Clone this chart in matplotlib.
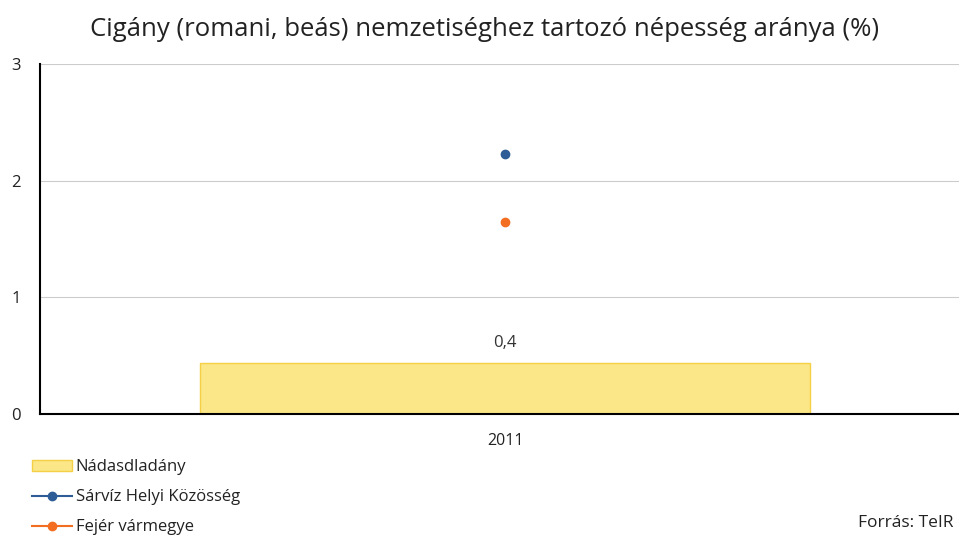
import matplotlib.pyplot as plt
from matplotlib.patches import Patch
from matplotlib.lines import Line2D

plt.rcParams['font.family'] = ['Open Sans', 'DejaVu Sans']

years = ['2011']
nadasdladany = [0.44]
sarviz = [2.23]
fejer = [1.645]

YELLOW = '#FCE788'
YELLOW_EDGE = '#F5CF45'
BLUE = '#2D5C97'
ORANGE = '#F36E21'

fig = plt.figure(figsize=(9.59, 5.36), dpi=100)
ax = fig.add_axes([0.0417, 0.2276, 0.97, 0.653])

x = list(range(len(years)))
ax.bar(x, nadasdladany, width=0.656, color=YELLOW, edgecolor=YELLOW_EDGE, linewidth=1, zorder=2)
for xi, v in zip(x, nadasdladany):
    ax.text(xi, v + 0.1, f'{v:.1f}'.replace('.', ','), ha='center', va='bottom', fontsize=12, color='#333333')
ax.plot(x, sarviz, color=BLUE, marker='o', markersize=6, linestyle='-', zorder=3)
ax.plot(x, fejer, color=ORANGE, marker='o', markersize=6, linestyle='-', zorder=3)

ax.set_xlim(-0.5, 0.5)
ax.set_ylim(0, 3)
ax.set_yticks([0, 1, 2, 3])
ax.set_xticks(x)
ax.set_xticklabels(years)
ax.grid(axis='y', color='#cccccc', linewidth=0.8, zorder=0)
ax.set_axisbelow(True)
for s in ['top', 'right']:
    ax.spines[s].set_visible(False)
ax.spines['left'].set_linewidth(1.5)
ax.spines['bottom'].set_linewidth(1.5)
ax.tick_params(axis='y', length=0, pad=14, labelsize=12, labelcolor='#222222')
ax.tick_params(axis='x', length=0, pad=14, labelsize=11.5, labelcolor='#222222')

fig.text(0.505, 0.945, 'Cigány (romani, beás) nemzetiséghez tartozó népesség aránya (%)',
         ha='center', va='center', fontsize=18.5, color='#222222')

handles = [
    Patch(facecolor=YELLOW, edgecolor=YELLOW_EDGE, label='Nádasdladány'),
    Line2D([], [], color=BLUE, marker='o', markersize=6, label='Sárvíz Helyi Közösség'),
    Line2D([], [], color=ORANGE, marker='o', markersize=6, label='Fejér vármegye'),
]
fig.legend(handles=handles, loc='upper left', bbox_to_anchor=(0.033, 0.143), frameon=False,
           fontsize=12, handlelength=2.4, handleheight=0.7, handletextpad=0.25, labelspacing=0.84,
           borderaxespad=0, borderpad=0, labelcolor='#222222')

fig.text(0.895, 0.024, 'Forrás: TeIR', ha='left', va='center', fontsize=12.5, color='#222222')

fig.savefig('out.png', dpi=100)
